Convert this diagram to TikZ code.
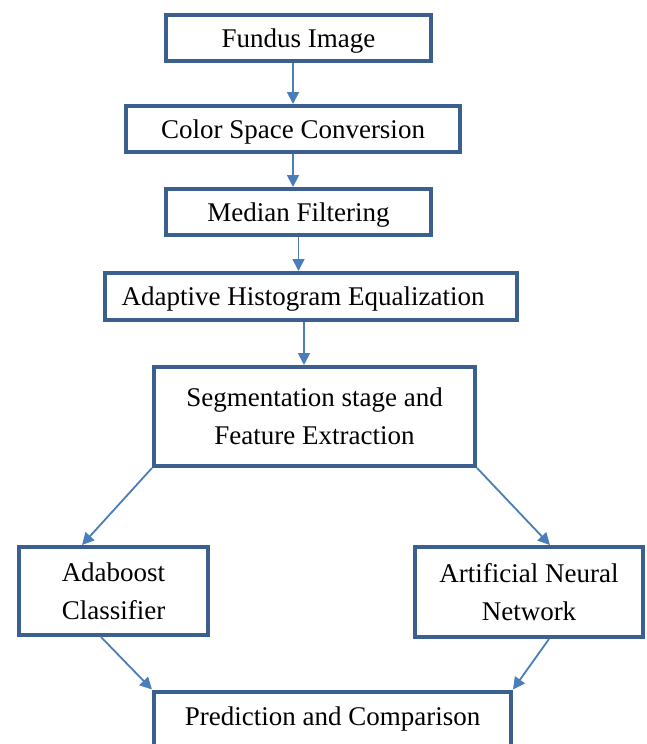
\documentclass[tikz,border=0pt]{standalone}
\usepackage{fontspec}
\setmainfont{Liberation Serif}
\usetikzlibrary{arrows.meta,calc}
\definecolor{boxblue}{RGB}{59,96,144}
\definecolor{arrblue}{RGB}{74,126,187}
\newcommand{\lowtxt}[1]{\raisebox{-1.5pt}[\height][\depth]{#1}}
\begin{document}
\begin{tikzpicture}[x=0.5pt,y=-0.5pt,
  box/.style={draw=boxblue,line width=2pt,rectangle,inner sep=0pt,align=center,
    font=\fontsize{13.5}{19}\selectfont,fill=white},
  arr/.style={draw=arrblue,line width=0.9pt,-{Triangle[length=6pt,width=6pt]}}]
\useasboundingbox (0,0) rectangle (647,744);
\node[box,minimum width=132.5pt,minimum height=23pt] (fundus) at (298.5,38) {\lowtxt{Fundus Image}};
\node[box,minimum width=167pt,minimum height=23pt] (color) at (293,129) {\lowtxt{Color Space Conversion}};
\node[box,minimum width=132.5pt,minimum height=23pt] (median) at (298.5,212) {\lowtxt{Median Filtering}};
\node[box,minimum width=206pt,minimum height=23.5pt] (adaptive) at (311,296.5) {\lowtxt{Adaptive Histogram Equalization\kern8pt}};
\node[box,minimum width=160.5pt,minimum height=49.5pt] (seg) at (314.5,416.5) {Segmentation stage and\\Feature Extraction};
\node[box,minimum width=94.5pt,minimum height=44pt] (ada) at (113.5,591) {Adaboost\\Classifier};
\node[box,minimum width=114pt,minimum height=45pt] (ann) at (529,592) {Artificial Neural\\Network};
\node[box,minimum width=178.5pt,minimum height=27.5pt] (pred) at (332.5,719) {Prediction and Comparison};
\draw[arr] (fundus.south -| color.north) -- (color.north);
\draw[arr] (color.south) -- (median.north -| color.south);
\draw[arr] (median.south) -- (adaptive.north -| median.south);
\draw[arr] ([xshift=-3.5pt]adaptive.south) -- ([xshift=-3.5pt]adaptive.south |- seg.north);
\draw[arr] (seg.south west) -- ([xshift=-15.75pt]ada.north);
\draw[arr] (seg.south east) -- ([xshift=10.5pt]ann.north);
\draw[arr] ([xshift=-6.25pt]ada.south) -- (pred.north west);
\draw[arr] ([xshift=10pt]ann.south) -- (pred.north east);
\end{tikzpicture}
\end{document}
